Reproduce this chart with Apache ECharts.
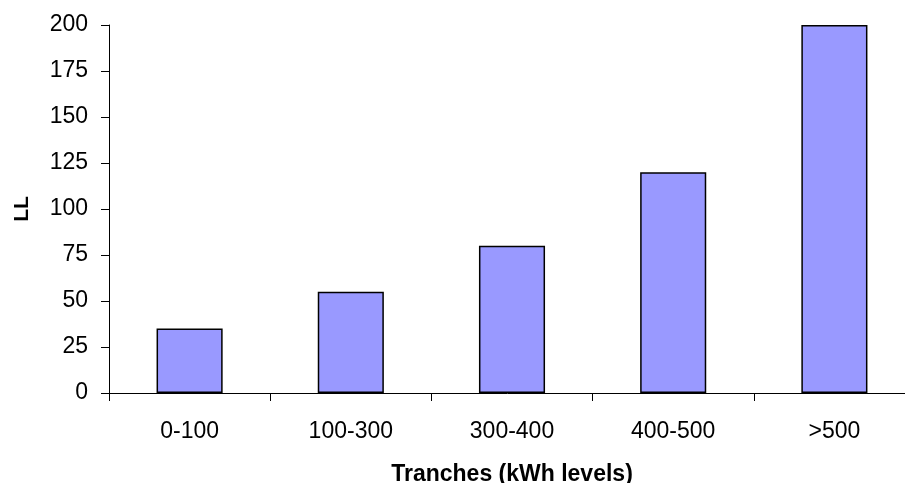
<!DOCTYPE html>
<html>
<head>
<meta charset="utf-8">
<script src="https://cdn.jsdelivr.net/npm/echarts@6/dist/echarts.min.js"></script>
<style>
  html, body { margin: 0; padding: 0; background: #fff; }
  #chart { width: 905px; height: 483px; }
</style>
</head>
<body>
<div id="chart"></div>
<script>
// Tariff tranches and the charge for each (LL)
const tranches = ['0-100', '100-300', '300-400', '400-500', '>500'];
const charges = [35, 55, 80, 120, 200];
const yTicks = { min: 0, max: 200, interval: 25 };

const FONT = '"Liberation Sans", Arial, sans-serif';

const chart = echarts.init(document.getElementById('chart'), null, { renderer: 'canvas' });
chart.setOption({
  animation: false,
  backgroundColor: '#ffffff',
  grid: {
    left: 109, right: -10, top: 25, bottom: 90,
    containLabel: false,
    outerBoundsMode: 'none'
  },
  xAxis: {
    type: 'category',
    data: tranches,
    boundaryGap: true,
    name: 'Tranches (kWh levels)',
    nameLocation: 'middle',
    nameGap: 70,
    nameTextStyle: { fontFamily: FONT, fontSize: 23, fontWeight: 'bold', color: '#000' },
    axisLine: { show: true, lineStyle: { color: '#000', width: 1 } },
    axisTick: { show: true, alignWithLabel: false, length: 8, lineStyle: { color: '#000', width: 1 } },
    axisLabel: { fontFamily: FONT, fontSize: 23, color: '#000', margin: 27 },
    splitLine: { show: false }
  },
  yAxis: {
    type: 'value',
    min: yTicks.min,
    max: yTicks.max,
    interval: yTicks.interval,
    name: 'LL',
    nameLocation: 'middle',
    nameGap: 76,
    nameRotate: 90,
    nameTextStyle: { fontFamily: FONT, fontSize: 21, fontWeight: 'bold', color: '#000' },
    axisLine: { show: true, lineStyle: { color: '#000', width: 1 } },
    axisTick: { show: true, length: 8, lineStyle: { color: '#000', width: 1 } },
    axisLabel: { fontFamily: FONT, fontSize: 23, color: '#000', margin: 21 },
    splitLine: { show: false }
  },
  series: [{
    type: 'bar',
    data: charges,
    barWidth: '41%',
    itemStyle: { color: '#9999FF', borderColor: '#000', borderWidth: 1.5 }
  }]
});
</script>
</body>
</html>
